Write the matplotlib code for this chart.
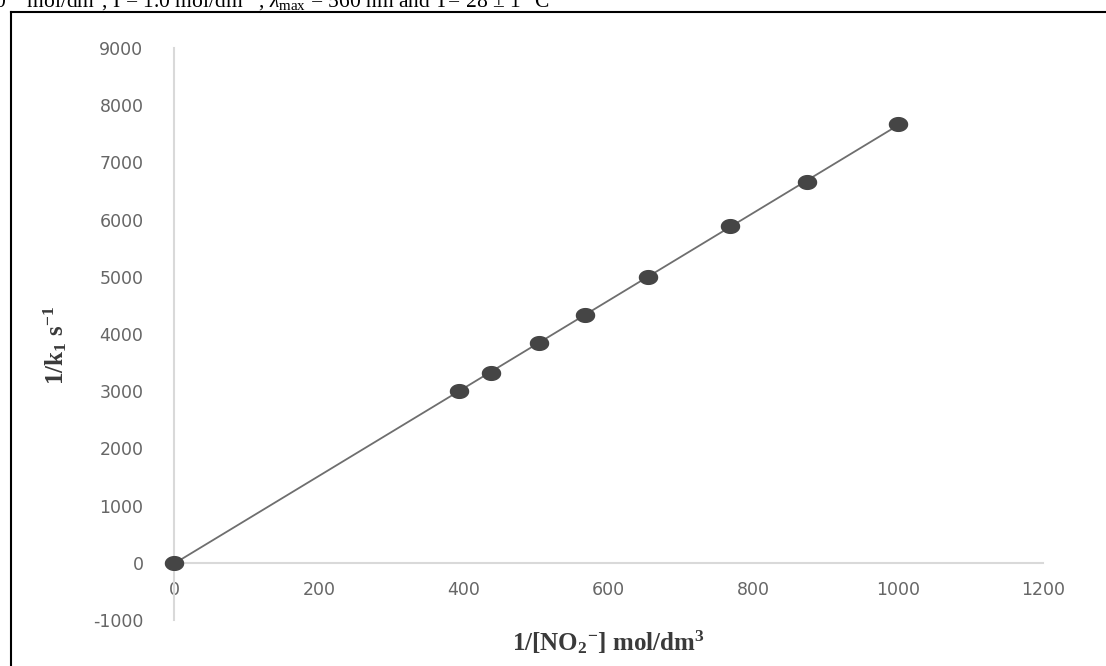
import numpy as np
import matplotlib
matplotlib.use("Agg")
import matplotlib.pyplot as plt
from matplotlib.path import Path
from matplotlib.lines import Line2D

# 1/[NO2-] (mol/dm3) and 1/k1 (s)
inv_no2 = [0, 394, 438, 504, 568, 655, 768, 874, 1000]
inv_k1 = [0, 3010, 3320, 3840, 4340, 5000, 5880, 6660, 7680]
x_ticks = [0, 200, 400, 600, 800, 1000, 1200]
y_ticks = [-1000, 0, 1000, 2000, 3000, 4000, 5000, 6000, 7000, 8000, 9000]

plt.rcParams["axes.unicode_minus"] = False
plt.rcParams["mathtext.fontset"] = "custom"
plt.rcParams["mathtext.rm"] = "Liberation Serif"
plt.rcParams["mathtext.it"] = "Liberation Serif:italic"
plt.rcParams["mathtext.bf"] = "Liberation Serif:bold"

W, H = 1106, 666
fig = plt.figure(figsize=(W / 100, H / 100), dpi=100)
ax = fig.add_axes([174 / W, (H - 620) / H, (1043 - 174) / W, (620 - 48) / H])

# slightly wide ellipse, like the stretched markers in the original
t = np.linspace(0, 2 * np.pi, 60)
ell = Path(np.column_stack([np.cos(t), 0.76 * np.sin(t)]), closed=True)

slope, icpt = np.polyfit(inv_no2, inv_k1, 1)
xl = np.array([min(inv_no2), max(inv_no2)])
ax.plot(xl, slope * xl + icpt, color="#6e6e6e", lw=1.3, zorder=3, clip_on=False)
ax.plot(inv_no2, inv_k1, ls="none", marker=ell, ms=13, color="#454545",
        mec="#454545", zorder=4, clip_on=False)

ax.set_xlim(0, 1200)
ax.set_ylim(-1000, 9000)
ax.set_xticks(x_ticks)
ax.set_yticks(y_ticks)
ax.tick_params(length=0, labelsize=12.5, labelcolor="#666666")
ax.tick_params(axis="x", pad=13)
ax.tick_params(axis="y", pad=22)
for s in ["top", "right"]:
    ax.spines[s].set_visible(False)
ax.spines["bottom"].set_position(("data", 0))
for s in ["left", "bottom"]:
    ax.spines[s].set_color("#d9d9d9")
    ax.spines[s].set_linewidth(1.5)
ax.set_facecolor("none")

serif = ["Liberation Serif", "DejaVu Serif"]
ax.set_ylabel(r"1/k$_\mathbf{1}$ s$^\mathbf{-1}$", family=serif, fontsize=18,
              fontweight="bold", color="#3a3a3a", va="center")
ax.yaxis.set_label_coords(-0.137, 0.48)
ax.set_xlabel(r"1/[NO$_\mathbf{2}$$^\mathbf{-}$] mol/dm$^\mathbf{3}$", family=serif,
              fontsize=18, fontweight="bold", color="#3a3a3a", va="center")
ax.xaxis.set_label_coords(0.5, -0.038)

# frame of the source figure and the cut-off caption above it
fig.add_artist(Line2D([10.5 / W, 10.5 / W], [0, 1 - 11.5 / H], color="black",
                      lw=1.5, transform=fig.transFigure))
fig.add_artist(Line2D([10.5 / W, 1], [1 - 11.5 / H, 1 - 11.5 / H], color="black",
                      lw=1.5, transform=fig.transFigure))
fig.text(-6 / W, 1 - 7 / H,
         r"0$^{-3}$ mol/dm$^3$, I = 1.0 mol/dm$^{-3}$, $\lambda_\mathrm{max}$ = 560 nm and T= 28 ± 1 °C",
         family=serif, fontsize=15.5, va="baseline", ha="left")

fig.savefig("out.png", dpi=100)
